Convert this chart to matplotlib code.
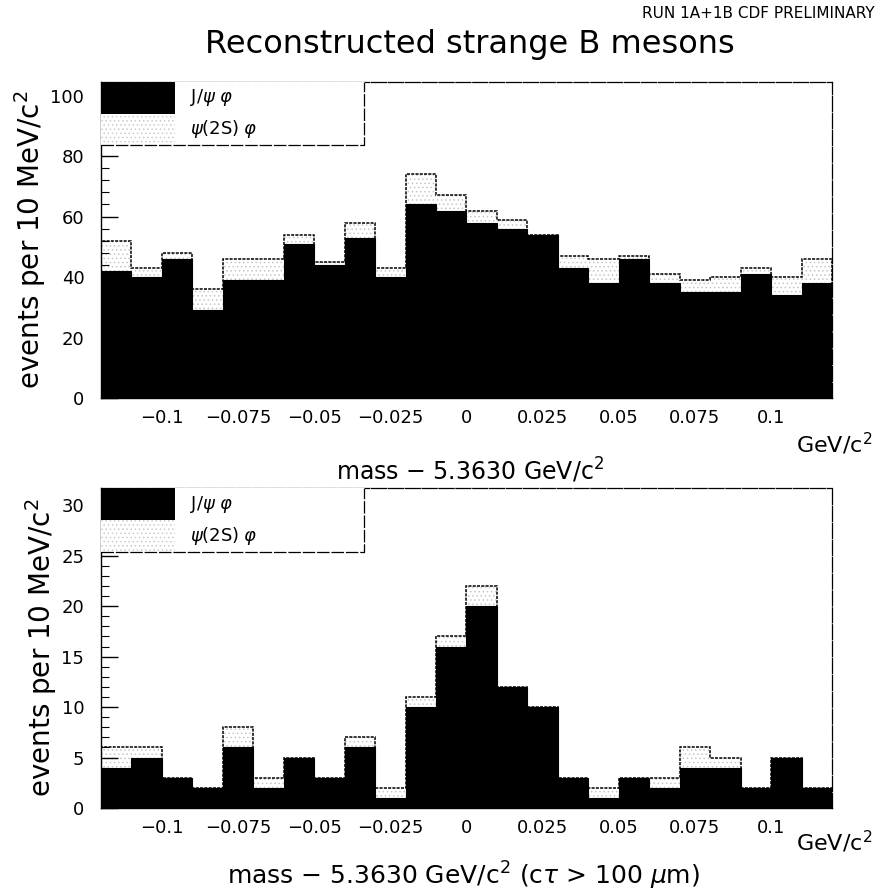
import numpy as np
import matplotlib
matplotlib.use('Agg')
import matplotlib.pyplot as plt
from matplotlib.patches import Rectangle
from matplotlib.ticker import MultipleLocator

plt.rcParams['font.family'] = ['DejaVu Sans']
plt.rcParams['hatch.linewidth'] = 0.6

# 24 bins of 10 MeV, mass - 5.3630 GeV/c^2
x_lo, x_hi, n_bins = -0.12, 0.12, 24

# all candidates
jpsi_all = [42, 40, 46, 29, 39, 39, 51, 44, 53, 40, 64, 62,
            58, 56, 54, 43, 38, 46, 38, 35, 35, 41, 34, 38]
psi2s_all = [10, 3, 2, 7, 7, 7, 3, 1, 5, 3, 10, 5,
             4, 3, 0, 4, 8, 1, 3, 4, 5, 2, 6, 8]

# c*tau > 100 um
jpsi_ct = [4, 5, 3, 2, 6, 2, 5, 3, 6, 1, 10, 16,
           20, 12, 10, 3, 1, 3, 2, 4, 4, 2, 5, 2]
psi2s_ct = [2, 1, 0, 0, 2, 1, 0, 0, 1, 1, 1, 1,
            2, 0, 0, 0, 1, 0, 1, 2, 1, 0, 0, 0]

xticks = [-0.1, -0.075, -0.05, -0.025, 0, 0.025, 0.05, 0.075, 0.1]
xticklabels = ['\u22120.1', '\u22120.075', '\u22120.05', '\u22120.025', '0',
               '0.025', '0.05', '0.075', '0.1']

edges = np.linspace(x_lo, x_hi, n_bins + 1)
width = edges[1] - edges[0]

fig = plt.figure(figsize=(8.82, 8.96), dpi=100)
ax1 = fig.add_axes([0.1145, 0.5558, 0.8288, 0.3527])
ax2 = fig.add_axes([0.1145, 0.0982, 0.8288, 0.3571])


def draw_panel(ax, jpsi, psi2s, ymax, yticks, minor):
    jpsi = np.array(jpsi)
    psi2s = np.array(psi2s)
    total = jpsi + psi2s
    ax.bar(edges[:-1], jpsi, width=width, align='edge', color='black',
           linewidth=0)
    ax.bar(edges[:-1], psi2s, bottom=jpsi, width=width, align='edge',
           facecolor='white', hatch='....', edgecolor='0.78', linewidth=0)
    ax.stairs(total, edges, color='black', linewidth=1.1,
              linestyle=(0, (2, 0.8)))
    ax.stairs(jpsi, edges, color='black', linewidth=0.8)

    ax.set_xlim(x_lo, x_hi)
    ax.set_ylim(0, ymax)
    ax.set_xticks(xticks)
    ax.set_xticklabels(xticklabels)
    ax.set_yticks(yticks)
    ax.yaxis.set_minor_locator(MultipleLocator(minor))
    ax.tick_params(axis='both', which='major', direction='in', length=12,
                   width=1, labelsize=13)
    ax.tick_params(axis='y', which='major', pad=12)
    ax.tick_params(axis='y', which='minor', direction='in', length=6, width=0.8)
    ax.tick_params(axis='x', which='major', length=0, pad=8)
    for s in ['top', 'right']:
        ax.spines[s].set_linestyle((0, (12, 1.5)))
        ax.spines[s].set_linewidth(0.9)
    ax.spines['left'].set_linewidth(1.0)
    ax.spines['bottom'].set_linewidth(1.0)

    # legend box in the upper left corner
    leg_bottom, leg_split = 0.8, 0.9
    ax.add_patch(Rectangle((0, leg_split), 0.101, 1 - leg_split,
                           transform=ax.transAxes, facecolor='black',
                           linewidth=0, zorder=5))
    ax.add_patch(Rectangle((0, leg_bottom), 0.101, leg_split - leg_bottom,
                           transform=ax.transAxes, facecolor='white',
                           hatch='....', edgecolor='0.8', linewidth=0,
                           zorder=5))
    ax.add_patch(Rectangle((0.101, leg_bottom), 0.26, 1 - leg_bottom,
                           transform=ax.transAxes, facecolor='white',
                           linewidth=0, zorder=4))
    ax.plot([0, 0.36, 0.36], [leg_bottom, leg_bottom, 1],
            transform=ax.transAxes, color='black', linewidth=0.9,
            linestyle=(0, (10, 1.5)), zorder=6, clip_on=False)
    ax.text(0.122, (1 + leg_split) / 2, r'$\mathrm{J}/\psi\;\varphi$',
            transform=ax.transAxes, fontsize=13, va='center', zorder=7)
    ax.text(0.122, (leg_split + leg_bottom) / 2, r'$\psi(2\mathrm{S})\;\varphi$',
            transform=ax.transAxes, fontsize=13, va='center', zorder=7)
    ax.set_ylabel('events per 10 MeV/c$^{2}$', fontsize=20, labelpad=2)


draw_panel(ax1, jpsi_all, psi2s_all, 104.5, [0, 20, 40, 60, 80, 100], 4)
draw_panel(ax2, jpsi_ct, psi2s_ct, 31.7, [0, 5, 10, 15, 20, 25, 30], 1)

fig.text(0.992, 0.985, 'RUN 1A+1B CDF PRELIMINARY', ha='right', va='center',
         fontsize=11, family=['Liberation Sans Narrow', 'DejaVu Sans'])
fig.text(0.533, 0.95, 'Reconstructed strange B mesons', ha='center',
         va='center', fontsize=23)
fig.text(0.989, 0.505, 'GeV/c$^{2}$', ha='right', va='center', fontsize=16)
fig.text(0.533, 0.475, 'mass \u2212 5.3630 GeV/c$^{2}$', ha='center',
         va='center', fontsize=17)
fig.text(0.989, 0.06, 'GeV/c$^{2}$', ha='right', va='center', fontsize=16)
fig.text(0.525, 0.022,
         r'mass $-$ 5.3630 GeV/c$^{2}$ (c$\tau$ > 100 $\mu$m)',
         ha='center', va='center', fontsize=18)

fig.savefig('out.png', dpi=100)
